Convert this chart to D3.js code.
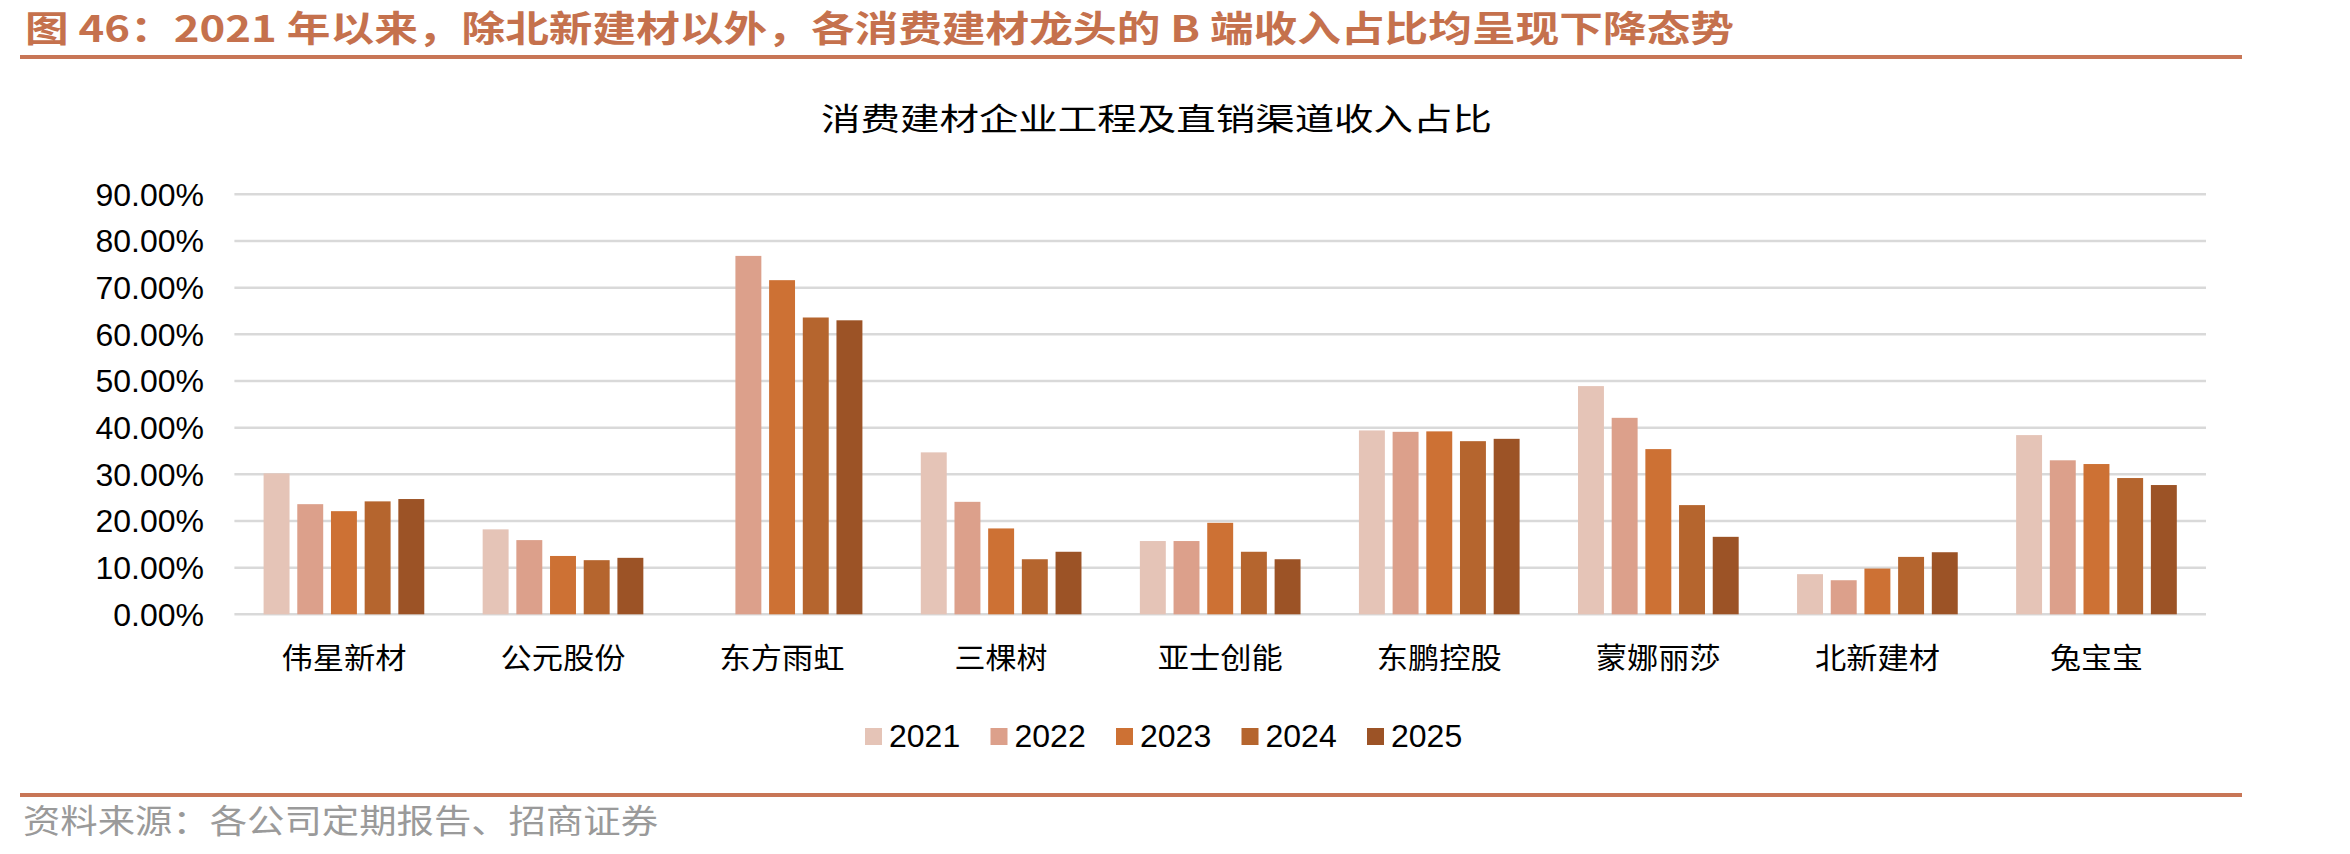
<!DOCTYPE html>
<html>
<head>
<meta charset="utf-8">
<script src="https://cdn.jsdelivr.net/npm/d3@7"></script>
<style>
  html, body { margin: 0; padding: 0; background: #fff; }
  svg { display: block; }
</style>
</head>
<body>
<svg id="chart" width="2350" height="854"></svg>
<script>
// data (percent)
var companies = ["伟星新材", "公元股份", "东方雨虹", "三棵树", "亚士创能", "东鹏控股", "蒙娜丽莎", "北新建材", "兔宝宝"];
var years = ["2021", "2022", "2023", "2024", "2025"];
var v2021 = [30.2, 18.2, null, 34.7, 15.7, 39.4, 48.9, 8.6, 38.4];
var v2022 = [23.6, 15.9, 76.8, 24.1, 15.7, 39.1, 42.1, 7.3, 33.0];
var v2023 = [22.1, 12.5, 71.6, 18.4, 19.6, 39.2, 35.4, 9.8, 32.2];
var v2024 = [24.2, 11.6, 63.6, 11.8, 13.4, 37.1, 23.4, 12.3, 29.2];
var v2025 = [24.7, 12.1, 63.0, 13.4, 11.8, 37.6, 16.6, 13.3, 27.7];
var yTicks = [0, 10, 20, 30, 40, 50, 60, 70, 80, 90];
var colors = ["#e5c4b7", "#dca08b", "#cd7134", "#b5652e", "#9c5326"];

var series = [v2021, v2022, v2023, v2024, v2025];

var svg = d3.select("#chart");
var cjk = "'Noto Sans CJK SC', sans-serif";
var latin = "'Liberation Sans', Arial, sans-serif";

// header title
svg.append("text")
  .attr("x", 25)
  .attr("y", 42)
  .attr("font-family", cjk)
  .attr("font-weight", "bold")
  .attr("font-size", 36)
  .attr("fill", "#c5714d")
  .attr("textLength", 1709)
  .attr("lengthAdjust", "spacingAndGlyphs")
  .text("图 46：2021 年以来，除北新建材以外，各消费建材龙头的 B 端收入占比均呈现下降态势");

svg.append("rect")
  .attr("x", 20).attr("y", 55)
  .attr("width", 2222).attr("height", 4)
  .attr("fill", "#c87656");

// chart title
svg.append("text")
  .attr("x", 821)
  .attr("y", 130)
  .attr("font-family", cjk)
  .attr("font-size", 31)
  .attr("fill", "#000")
  .attr("textLength", 671)
  .attr("lengthAdjust", "spacingAndGlyphs")
  .text("消费建材企业工程及直销渠道收入占比");

var plotLeft = 234.4, plotRight = 2206, plotTop = 194.3, plotBottom = 614.3;

var x0 = d3.scaleBand()
  .domain(companies)
  .range([plotLeft, plotRight])
  .paddingInner(0.2665)
  .paddingOuter(0.13325);

var x1 = d3.scaleBand()
  .domain(years)
  .range([0, x0.bandwidth()])
  .paddingInner(0.23);

var y = d3.scaleLinear().domain([0, 90]).range([plotBottom, plotTop]);

// gridlines
svg.append("g")
  .selectAll("line")
  .data(yTicks)
  .enter()
  .append("line")
  .attr("x1", plotLeft)
  .attr("x2", plotRight)
  .attr("y1", d => y(d))
  .attr("y2", d => y(d))
  .attr("stroke", "#d9d9d9")
  .attr("stroke-width", 2.5);

// y tick labels
svg.append("g")
  .selectAll("text")
  .data(yTicks)
  .enter()
  .append("text")
  .attr("x", 204)
  .attr("y", d => y(d))
  .attr("dy", "0.35em")
  .attr("text-anchor", "end")
  .attr("font-family", latin)
  .attr("font-size", 32)
  .attr("fill", "#000")
  .text(d => d.toFixed(2) + "%");

// bars
var groups = svg.append("g")
  .selectAll("g")
  .data(companies)
  .enter()
  .append("g")
  .attr("transform", d => "translate(" + x0(d) + ",0)");

groups.selectAll("rect")
  .data((c, i) => years.map((yr, j) => ({ year: yr, value: series[j][i], color: colors[j] })).filter(d => d.value != null))
  .enter()
  .append("rect")
  .attr("x", d => x1(d.year))
  .attr("width", x1.bandwidth())
  .attr("y", d => y(d.value))
  .attr("height", d => y(0) - y(d.value))
  .attr("fill", d => d.color);

// category labels
svg.append("g")
  .selectAll("text")
  .data(companies)
  .enter()
  .append("text")
  .attr("x", d => x0(d) + x0.bandwidth() / 2)
  .attr("y", 669)
  .attr("text-anchor", "middle")
  .attr("font-family", cjk)
  .attr("font-size", 29)
  .attr("fill", "#000")
  .attr("textLength", d => d.length * 32 - 3)
  .attr("lengthAdjust", "spacingAndGlyphs")
  .text(d => d);

// legend
var lx = d3.scalePoint().domain(years).range([865, 1367]);
var legend = svg.append("g")
  .selectAll("g")
  .data(years)
  .enter()
  .append("g")
  .attr("transform", d => "translate(" + lx(d) + ",0)");

legend.append("rect")
  .attr("x", 0).attr("y", 728)
  .attr("width", 17).attr("height", 17)
  .attr("fill", (d, i) => colors[i]);

legend.append("text")
  .attr("x", 24)
  .attr("y", 747)
  .attr("font-family", latin)
  .attr("font-size", 32)
  .attr("fill", "#000")
  .text(d => d);

// footer
svg.append("rect")
  .attr("x", 20).attr("y", 793)
  .attr("width", 2222).attr("height", 4)
  .attr("fill", "#c87656");

svg.append("text")
  .attr("x", 23)
  .attr("y", 833)
  .attr("font-family", cjk)
  .attr("font-size", 33)
  .attr("fill", "#9a9a9a")
  .attr("textLength", 635)
  .attr("lengthAdjust", "spacingAndGlyphs")
  .text("资料来源：各公司定期报告、招商证券");
</script>
</body>
</html>
